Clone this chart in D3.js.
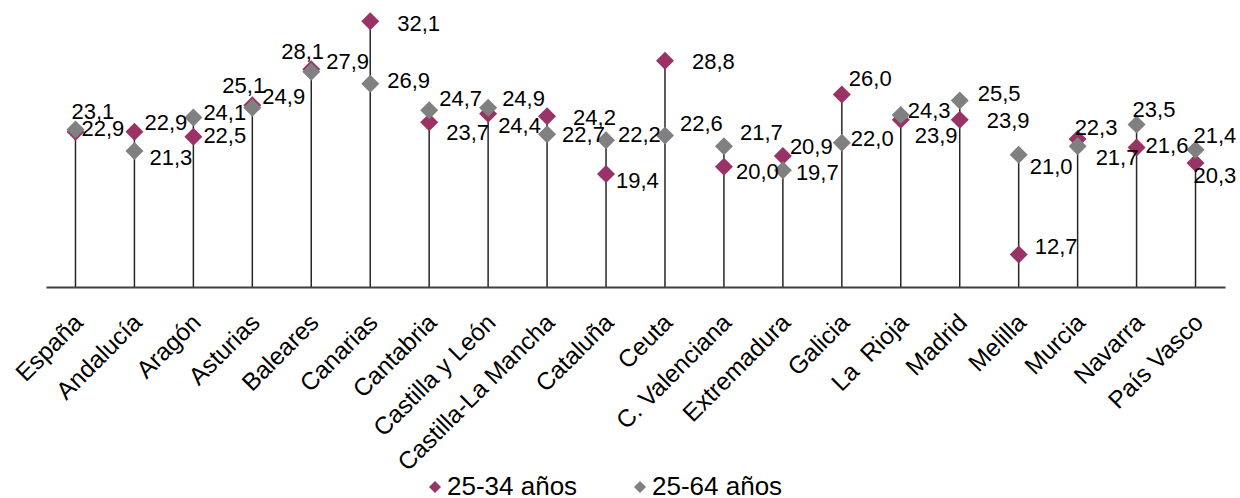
<!DOCTYPE html>
<html><head><meta charset="utf-8">
<script src="https://cdn.jsdelivr.net/npm/d3@7"></script>
<style>
html,body{margin:0;padding:0;background:#fff;}
svg{display:block;font-family:"Liberation Sans",Arial,sans-serif;}
</style></head>
<body>
<svg id="chart" width="1240" height="498"></svg>
<script>
const categories = ["España","Andalucía","Aragón","Asturias","Baleares","Canarias","Cantabria","Castilla y León","Castilla-La Mancha","Cataluña","Ceuta","C. Valenciana","Extremadura","Galicia","La  Rioja","Madrid","Melilla","Murcia","Navarra","País Vasco"];
const seriesNames = ["25-34 años","25-64 años"];
const values2534 = [22.9,22.9,22.5,25.1,28.1,32.1,23.7,24.4,24.2,19.4,28.8,20.0,20.9,26.0,23.9,23.9,12.7,22.3,21.6,20.3];
const values2564 = [23.1,21.3,24.1,24.9,27.9,26.9,24.7,24.9,22.7,22.2,22.6,21.7,19.7,22.0,24.3,25.5,21.0,21.7,23.5,21.4];
const yDomain = [10,34];

// manual label nudges (dx from marker to label start, dy to label middle)
const nudge2534 = [[6,-3.5],[10,-9],[10,-1],[-30,-20],[-30,-18],[27,2],[17,10],[10,12],[26,1],[10,7],[27,1],[12,5],[7,-9],[7,-16],[14,16],[27,1],[16,-8],[-3,-12],[9,-2],[-2,12]];
const nudge2564 = [[-4,-18],[15,6],[10,-5],[10,-11],[15,-10],[17,-3],[10,-12],[14,-9],[15,0],[12,-6],[15,-12],[16,-14],[13,2],[9,-4],[7,-4],[18,-7],[11,12],[18,11],[-4,-15],[-2,-14]];

const colors = ["#993366","#808080"];
const svg = d3.select("#chart");
const axisY = 287;
const x = d3.scaleBand().domain(categories).range([46,1225]).padding(0);
const y = d3.scaleLinear().domain(yDomain).range([axisY,-1.7]);
const cx = c => x(c) + x.bandwidth()/2;
const fmt = v => d3.format(".1f")(v).replace(".", ",");
const diamond = r => `M0,${-r}L${r},0L0,${r}L${-r},0Z`;

const data = categories.map((c,i)=>({c, a:values2534[i], b:values2564[i], na:nudge2534[i], nb:nudge2564[i]}));

// stems
svg.append("g").selectAll("line").data(data).join("line")
  .attr("x1",d=>cx(d.c)).attr("x2",d=>cx(d.c))
  .attr("y1",d=>y(Math.max(d.a,d.b))).attr("y2",axisY)
  .attr("stroke","#262626").attr("stroke-width",1.5);

// x axis
const xAxis = d3.axisBottom(x).tickSize(0).tickPadding(0);
const gx = svg.append("g").attr("transform",`translate(0,${axisY})`).call(xAxis);
gx.select(".domain").attr("stroke","#404040").attr("stroke-width",2);
gx.selectAll(".tick text")
  .attr("font-size",24.5).attr("fill","#000")
  .attr("font-family","'Liberation Sans',Arial,sans-serif")
  .style("white-space","pre")
  .attr("text-anchor","end")
  .attr("dy",null).attr("y",0)
  .attr("transform","translate(9,37) rotate(-45)");

// markers
const series = [
  {key:"a", nk:"na", color:colors[0]},
  {key:"b", nk:"nb", color:colors[1]}
];
series.forEach(s=>{
  svg.append("g").selectAll("path").data(data).join("path")
    .attr("d",diamond(9))
    .attr("transform",d=>`translate(${cx(d.c)},${y(d[s.key])})`)
    .attr("fill",s.color);
});
series.forEach(s=>{
  svg.append("g").selectAll("text").data(data).join("text")
    .attr("x",d=>cx(d.c)+d[s.nk][0])
    .attr("y",d=>y(d[s.key])+d[s.nk][1])
    .attr("dominant-baseline","central")
    .attr("font-size",22).attr("fill","#000")
    .text(d=>fmt(d[s.key]));
});

// legend
const legendX = [435,640];
const lg = svg.append("g");
seriesNames.forEach((n,i)=>{
  lg.append("path").attr("d",diamond(6)).attr("transform",`translate(${legendX[i]},487)`).attr("fill",colors[i]);
  lg.append("text").attr("x",legendX[i]+12).attr("y",495)
    .attr("font-size",26).attr("fill","#000").text(n);
});
</script>
</body></html>
